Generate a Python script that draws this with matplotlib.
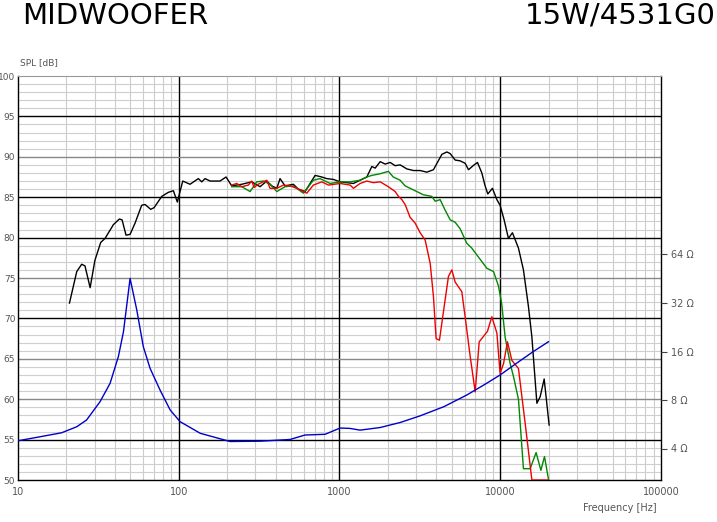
import numpy as np
import matplotlib
matplotlib.use("Agg")
import matplotlib.pyplot as plt
from matplotlib.ticker import FixedLocator, NullFormatter, NullLocator

# ---------------- data ----------------
black_f = [20.9, 23.2, 24.9, 26.1, 28.1, 30.1, 32.7, 34.8, 39.2, 42.7, 44.4, 47.0, 49.8, 53.5,
           58.8, 61.7, 66.9, 70.2, 78.4, 86.1, 92.6, 98.0, 105.9, 117.5, 132.4, 139.0, 145.8,
           156.6, 180.7, 196.9, 213.6, 246.5, 284.4, 320.5, 352.8, 379.2, 407.6, 426.6, 458.4,
           516.4, 554.6, 610.9, 656.4, 705.3, 776, 833.4, 916, 1009, 1110, 1221, 1343, 1479,
           1589, 1667, 1791, 1924, 2066, 2219, 2384, 2624, 2884, 3175, 3493, 3841, 4332, 4652,
           4880, 5240, 5627, 6047, 6346, 6780, 7216, 7680, 8051, 8370, 8940, 9526, 9980, 10570,
           11240, 11910, 12980, 13940, 14970, 15730, 16900, 17710, 18760, 20140]
black_db = [71.9, 75.8, 76.7, 76.5, 73.8, 77.2, 79.4, 79.9, 81.6, 82.3, 82.2, 80.3, 80.4, 81.8,
            84.0, 84.1, 83.5, 83.7, 85.1, 85.6, 85.8, 84.4, 87.0, 86.6, 87.3, 86.9, 87.3,
            87.0, 87.0, 87.5, 86.4, 86.6, 86.9, 86.3, 87.0, 86.4, 86.1, 87.3, 86.4,
            86.6, 86.0, 85.7, 86.7, 87.7, 87.5, 87.3, 87.2, 86.9, 86.8, 86.7, 87.1, 87.5,
            88.8, 88.6, 89.4, 89.1, 89.3, 88.9, 89.0, 88.5, 88.3, 88.3, 88.1, 88.4, 90.3, 90.6,
            90.4, 89.6, 89.5, 89.2, 88.4, 88.9, 89.3, 88.0, 86.4, 85.4, 86.1, 84.7, 84.0, 82.2,
            79.9, 80.6, 78.7, 76.0, 71.5, 67.7, 59.5, 60.3, 62.5, 56.8]

red_f = [213.6, 229.6, 246.5, 271, 284.4, 294.4, 311.6, 352.8, 369.8, 407.6, 447.9, 493, 542,
         626, 688, 776, 853, 1009, 1164, 1221, 1343, 1479, 1625, 1791, 2013, 2219, 2327, 2443,
         2560, 2750, 2953, 3175, 3411, 3667, 3841, 3990, 4186, 4430, 4762, 5000, 5240, 5767,
         6047, 6500, 6985, 7396, 8325, 8865, 9526, 9980, 10480, 11090, 11810, 12980, 14290,
         15730, 19950]
red_db = [86.5, 86.7, 86.3, 86.5, 87.0, 86.2, 86.6, 87.1, 86.1, 86.1, 86.5, 86.4, 86.1,
          85.5, 86.5, 86.9, 86.5, 86.7, 86.5, 86.1, 86.7, 87.0, 86.8, 86.9, 86.3, 85.7, 85.1, 84.7,
          84.1, 82.5, 81.8, 80.6, 79.7, 76.8, 72.7, 67.5, 67.3, 70.8, 75.2, 76.0, 74.5, 73.3,
          70.2, 65.3, 60.9, 67.1, 68.4, 70.2, 68.2, 63.2, 64.4, 67.1, 64.8, 63.8, 57.0,
          50.0, 50.0]

green_f = [213.6, 246.5, 278, 305.5, 336, 369.8, 407.6, 458.4, 516, 596, 688, 757, 874, 1009,
           1164, 1343, 1479, 1589, 1791, 2013, 2160, 2384, 2560, 2884, 3325, 3749, 3937, 4226,
           4540, 4880, 5240, 5627, 6190, 6650, 7310, 8260, 9080, 9750, 10200, 10720, 11530,
           12090, 12980, 13940, 15350, 16710, 17900, 18850, 19950]
green_db = [86.3, 86.3, 85.7, 86.9, 87.0, 86.6, 85.7, 86.3, 86.4, 85.5, 87.1, 87.3, 86.7, 86.9,
            86.9, 87.1, 87.5, 87.7, 87.9, 88.2, 87.5, 87.1, 86.4, 85.9, 85.3, 85.1, 84.5, 84.7,
            83.4, 82.2, 81.9, 81.1, 79.3, 78.7, 77.6, 76.2, 75.8, 74.0, 71.9, 67.7, 64.4,
            62.8, 60.0, 51.4, 51.4, 53.4, 51.2, 52.9, 50.1]

imp_f = [10.04, 13.7, 18.7, 23.2, 26.7, 32.4, 37.4, 42.1, 45.3, 49.8, 54.8, 60.2, 66.3, 76.5,
         88.4, 101.9, 136.1, 208.7, 320.5, 492, 610, 813, 1009, 1164, 1343, 1791, 2384, 3175,
         4460, 6190, 7900, 9980, 12620, 16000, 19950]
imp_ohm = [4.47, 4.73, 5.01, 5.46, 6.01, 7.81, 10.16, 14.86, 21.23, 45.5, 29.0, 17.13, 12.59,
           9.22, 6.94, 5.87, 4.97, 4.42, 4.44, 4.55, 4.85, 4.90, 5.36, 5.33, 5.20, 5.40, 5.80,
           6.38, 7.27, 8.59, 9.91, 11.44, 13.52, 15.95, 18.4]

spl_ticks = [50, 55, 60, 65, 70, 75, 80, 85, 90, 95, 100]
dark_lines = [95, 85, 80, 70, 55]
freq_ticks = [10, 100, 1000, 10000, 100000]
freq_labels = ["10", "100", "1000", "10000", "100000"]
ohm_ticks = [4, 8, 16, 32, 64]
ohm_labels = ["4 \u03a9", "8 \u03a9", "16 \u03a9", "32 \u03a9", "64 \u03a9"]

# ---------------- figure ----------------
W, H = 717, 522
fig = plt.figure(figsize=(W / 100, H / 100), dpi=100)
L, R, B, T = 18, 661, 480, 76
ax = fig.add_axes([L / W, 1 - B / H, (R - L) / W, (B - T) / H])
ax.set_xscale("log")
ax.set_xlim(10, 100000)
ax.set_ylim(50, 100)

# grid
for d in [10, 100, 1000, 10000]:
    for m in range(2, 10):
        ax.axvline(d * m, color="#cccccc", lw=0.8, zorder=0)
for d in [100, 1000, 10000]:
    ax.axvline(d, color="black", lw=1.0, zorder=0.5)
for v in range(51, 100):
    if v % 5:
        ax.axhline(v, color="#cfcfcf", lw=0.8, zorder=0)
for v in spl_ticks[1:-1]:
    ax.axhline(v, color="black" if v in dark_lines else "#888888", lw=1.0, zorder=0.5)

ax.plot(black_f, black_db, color="black", lw=1.0, zorder=3)
ax.plot(green_f, green_db, color="#008800", lw=1.0, zorder=4)
ax.plot(red_f, red_db, color="#ee0000", lw=1.0, zorder=5)

ax.set_yticks(spl_ticks)
ax.set_yticklabels([str(v) for v in spl_ticks])
ax.set_xticks(freq_ticks)
ax.set_xticklabels(freq_labels)
ax.xaxis.set_minor_locator(NullLocator())
ax.tick_params(axis="x", which="both", length=0, labelsize=7, labelcolor="#555555", pad=5)
ax.tick_params(axis="y", which="both", length=0, labelsize=6.5, labelcolor="#555555", pad=2)
for s in ["left", "bottom", "right"]:
    ax.spines[s].set_color("black")
    ax.spines[s].set_linewidth(1.0)
ax.spines["top"].set_color("#999999")
ax.spines["top"].set_linewidth(0.8)

# impedance axis
ax2 = ax.twinx()
ax2.set_yscale("log", base=2)
lo = 8 * 2 ** (-(B - 400) / 48.5)
hi = 8 * 2 ** ((400 - T) / 48.5)
ax2.set_ylim(lo, hi)
ax2.plot(imp_f, imp_ohm, color="#0000cc", lw=1.0, zorder=6)
ax2.yaxis.set_major_locator(FixedLocator(ohm_ticks))
ax2.set_yticklabels(ohm_labels)
ax2.yaxis.set_minor_locator(NullLocator())
ax2.yaxis.set_minor_formatter(NullFormatter())
ax2.tick_params(axis="y", which="major", length=4, width=0.8, color="#444444",
                labelsize=7, labelcolor="#555555", pad=3, direction="out")
for s in ax2.spines.values():
    s.set_visible(False)

# texts
fig.text(22 / W, 1 - 16 / H, "MIDWOOFER", fontsize=21, va="center", ha="left",
         color="black", family="DejaVu Sans")
fig.text(716 / W, 1 - 16 / H, "15W/4531G0", fontsize=21, va="center", ha="right",
         color="black", family="DejaVu Sans")
fig.text(20 / W, 1 - 63 / H, "SPL [dB]", fontsize=6.5, color="#555555", va="center",
         ha="left")
fig.text(620 / W, 1 - 508 / H, "Frequency [Hz]", fontsize=7, color="#555555",
         va="center", ha="center")

fig.savefig("out.png", dpi=100)
